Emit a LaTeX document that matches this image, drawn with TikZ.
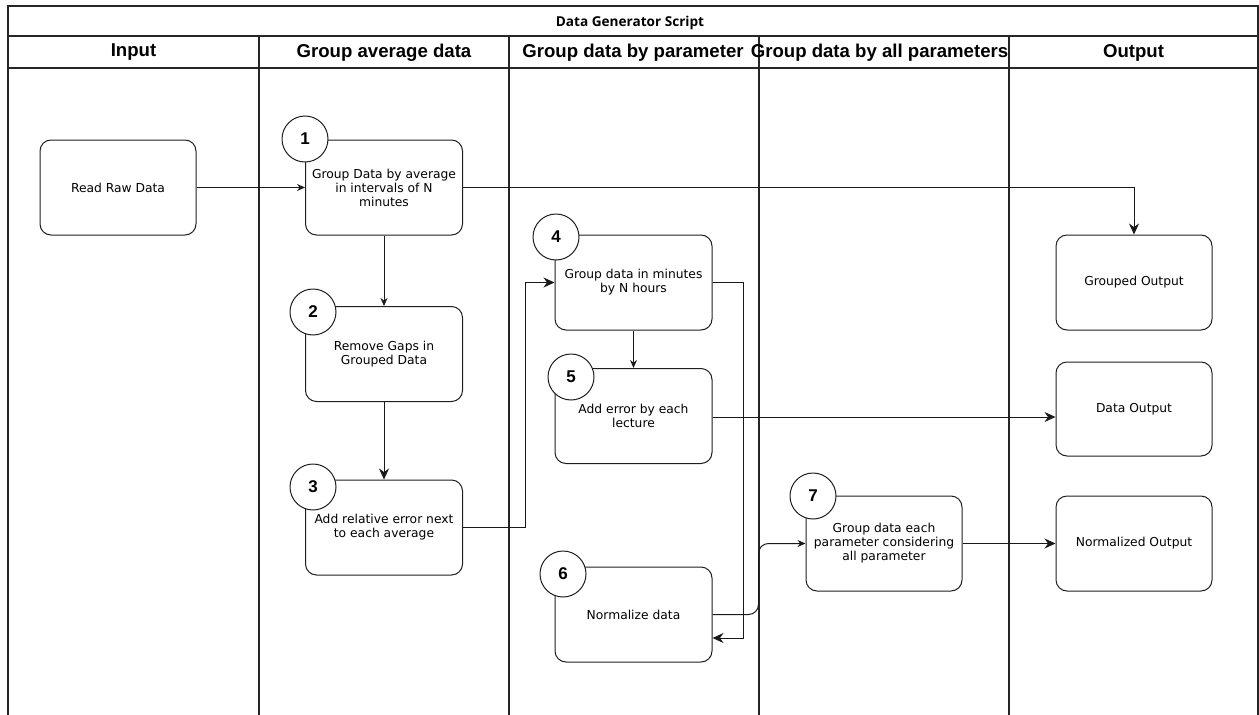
\documentclass[tikz,border=0pt]{standalone}
\usepackage{fontspec}
\setmainfont{DejaVu Sans}
\newfontfamily\headfont{Liberation Sans}
\newfontfamily\titlefont{Open Sans}
\usetikzlibrary{arrows.meta}

\tikzset{
  frameline/.style={line width=1.4pt, draw=black!85},
  stepbox/.style={draw=black!88, line width=1pt, rounded corners=11pt, fill=white,
    minimum width=157pt, minimum height=95pt, align=center, inner sep=2pt,
    font=\fontsize{12.3}{14}\selectfont},
  num/.style={circle, draw=black!88, fill=white, line width=1pt, minimum size=46pt,
    inner sep=0pt, font=\headfont\bfseries\fontsize{17}{17}\selectfont},
  lanehead/.style={font=\headfont\bfseries\fontsize{18.6}{21}\selectfont},
  flow/.style={line width=1pt, draw=black!90},
  arrs/.style={flow, -{Stealth[length=8pt,width=7pt]}},
  arrl/.style={flow, -{Stealth[length=11pt,width=10pt]}},
}

\begin{document}
\begin{tikzpicture}[x=1pt,y=-1pt]
\useasboundingbox (0,0) rectangle (1259,715);

% pool frame, title row and lane header row
\draw[frameline] (8,715) -- (8,6) -- (1258,6) -- (1258,715);
\draw[frameline] (8,36) -- (1258,36);
\draw[frameline] (8,68) -- (1258,68);
\foreach \lx in {259,509,759,1009}
  \draw[frameline] (\lx,36) -- (\lx,715);

\node[font=\titlefont\bfseries\fontsize{13.6}{14}\selectfont] (title) at (630,23) {Data Generator Script};
\node[lanehead] (h1) at (133.5,52.5) {Input};
\node[lanehead] (h2) at (384,52.5) {Group average data};
\node[lanehead] (h3) at (633,52.5) {Group data by parameter};
\node[lanehead] (h4) at (879.5,52.5) {Group data by all parameters};
\node[lanehead] (h5) at (1133.5,52.5) {Output};

% process steps
\node[stepbox, minimum width=156pt] (raw) at (118,187.5) {Read Raw Data};
\node[stepbox] (b1) at (384,187.5) {Group Data by average\\in intervals of N\\minutes};
\node[stepbox] (b2) at (384,354) {Remove Gaps in\\Grouped Data};
\node[stepbox] (b3) at (384,527.5) {Add relative error next\\to each average};
\node[stepbox] (b4) at (633.5,282.5) {Group data in minutes\\by N hours};
\node[stepbox] (b5) at (633.5,416) {Add error by each\\lecture};
\node[stepbox] (b6) at (633.5,614.5) {Normalize data};
\node[stepbox, minimum width=156pt] (b7) at (884,543.5) {Group data each\\parameter considering\\all parameter};

% outputs
\node[stepbox, minimum width=156pt] (go) at (1134,282.5) {Grouped Output};
\node[stepbox, minimum width=156pt, minimum height=94pt] (do) at (1134,409) {Data Output};
\node[stepbox, minimum width=156pt] (no) at (1134,543.5) {Normalized Output};

% step numbers
\node[num] (n1) at (305,139) {1};
\node[num] (n2) at (313,312) {2};
\node[num] (n3) at (313,487) {3};
\node[num] (n4) at (556,237) {4};
\node[num] (n5) at (571,377) {5};
\node[num] (n6) at (563,574) {6};
\node[num] (n7) at (813,496) {7};

% connectors
\draw[arrs] (raw.east) -- (b1.west);
\draw[arrl] (b1.east) -| (go.north);
\draw[arrs] (b1.south) -- (b2.north);
\draw[arrl] (b2.south) -- (b3.north);
\draw[arrl] (b3.east) -- ++(62,0) |- (b4.west);
\draw[arrs] (b4.south) -- (b5.north);
\draw[arrl] (b4.east) -- ++(31,0) |- ([yshift=-23.5pt]b6.east);
\draw[arrl] (b5.east |- 0,417) -- (do.west |- 0,417);
\draw[arrs, rounded corners=10pt] (b6.east) -- ++(46,0) |- (b7.west);
\draw[arrl] (b7.east) -- (no.west);
\end{tikzpicture}
\end{document}
